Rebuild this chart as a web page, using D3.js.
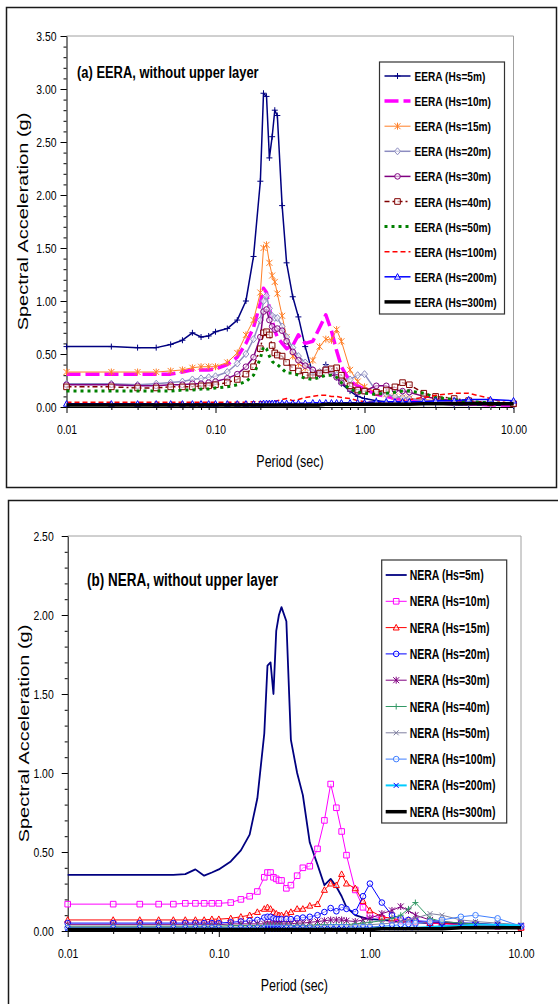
<!DOCTYPE html>
<html>
<head>
<meta charset="utf-8">
<script src="https://cdn.jsdelivr.net/npm/d3@7"></script>
<style>
body { margin: 0; background: #fff; }
svg { display: block; }
</style>
</head>
<body>
<script>
/* Data: periods (sec) shared by every series, values in g */
const periods = [0.01, 0.02, 0.03, 0.04, 0.05, 0.06, 0.07, 0.08, 0.09, 0.10,
    0.12, 0.14, 0.16, 0.18, 0.20, 0.21, 0.22, 0.23, 0.24, 0.25,
    0.26, 0.28, 0.30, 0.33, 0.36, 0.40, 0.45, 0.50, 0.55, 0.60,
    0.65, 0.70, 0.80, 0.90, 1.00, 1.20, 1.40, 1.60, 1.80, 2.00,
    2.50, 3.00, 4.00, 5.00, 7.00, 10.00];

const xTickValues = [0.01, 0.1, 1, 10];

// (a) EERA
const eeraLabels = ['EERA (Hs=5m)', 'EERA (Hs=10m)', 'EERA (Hs=15m)', 'EERA (Hs=20m)', 'EERA (Hs=30m)',
    'EERA (Hs=40m)', 'EERA (Hs=50m)', 'EERA (Hs=100m)', 'EERA (Hs=200m)', 'EERA (Hs=300m)'];
const eeraTicks = [0, 0.5, 1, 1.5, 2, 2.5, 3, 3.5];
const eera5 = [0.57, 0.57, 0.56, 0.56, 0.59, 0.63, 0.70, 0.66, 0.67, 0.71,
    0.74, 0.82, 1.00, 1.42, 2.13, 2.96, 2.93, 2.35, 2.55, 2.80,
    2.75, 1.90, 1.36, 1.04, 0.85, 0.57, 0.31, 0.30, 0.40, 0.33,
    0.28, 0.22, 0.15, 0.10, 0.08, 0.06, 0.05, 0.05, 0.04, 0.04,
    0.03, 0.03, 0.02, 0.02, 0.02, 0.01];
const eera10 = [0.31, 0.31, 0.31, 0.31, 0.31, 0.33, 0.35, 0.35, 0.35, 0.36,
    0.40, 0.47, 0.60, 0.75, 0.98, 1.12, 1.08, 0.93, 0.82, 0.72,
    0.66, 0.60, 0.55, 0.58, 0.68, 0.60, 0.62, 0.75, 0.87, 0.72,
    0.53, 0.38, 0.24, 0.20, 0.17, 0.12, 0.10, 0.08, 0.07, 0.06,
    0.05, 0.04, 0.03, 0.03, 0.02, 0.02];
const eera15 = [0.33, 0.33, 0.33, 0.33, 0.34, 0.35, 0.37, 0.38, 0.38, 0.38,
    0.42, 0.51, 0.68, 0.82, 1.08, 1.50, 1.53, 1.36, 1.24, 1.18,
    1.07, 0.86, 0.66, 0.48, 0.41, 0.37, 0.44, 0.57, 0.64, 0.63,
    0.73, 0.62, 0.35, 0.24, 0.19, 0.14, 0.12, 0.10, 0.09, 0.08,
    0.07, 0.06, 0.05, 0.05, 0.04, 0.03];
const eera20 = [0.22, 0.22, 0.21, 0.22, 0.23, 0.24, 0.26, 0.27, 0.28, 0.29,
    0.33, 0.41, 0.50, 0.64, 0.82, 1.00, 1.05, 0.93, 0.86, 0.84,
    0.84, 0.76, 0.66, 0.56, 0.48, 0.42, 0.35, 0.33, 0.37, 0.35,
    0.30, 0.27, 0.26, 0.30, 0.31, 0.15, 0.12, 0.10, 0.09, 0.08,
    0.06, 0.05, 0.04, 0.04, 0.03, 0.03];
const eera30 = [0.21, 0.21, 0.20, 0.20, 0.21, 0.21, 0.22, 0.22, 0.23, 0.24,
    0.27, 0.31, 0.38, 0.47, 0.66, 0.90, 0.92, 0.82, 0.76, 0.73,
    0.74, 0.72, 0.62, 0.52, 0.44, 0.39, 0.35, 0.31, 0.35, 0.32,
    0.28, 0.23, 0.17, 0.14, 0.15, 0.20, 0.20, 0.16, 0.15, 0.14,
    0.10, 0.08, 0.06, 0.05, 0.04, 0.03];
const eera40 = [0.19, 0.19, 0.18, 0.18, 0.19, 0.19, 0.19, 0.20, 0.20, 0.21,
    0.23, 0.26, 0.31, 0.38, 0.55, 0.70, 0.71, 0.68, 0.58, 0.51,
    0.49, 0.48, 0.42, 0.37, 0.34, 0.30, 0.30, 0.32, 0.35, 0.36,
    0.37, 0.30, 0.20, 0.16, 0.15, 0.14, 0.16, 0.19, 0.23, 0.21,
    0.13, 0.10, 0.08, 0.06, 0.04, 0.03];
const eera50 = [0.15, 0.15, 0.15, 0.15, 0.15, 0.16, 0.16, 0.17, 0.17, 0.18,
    0.19, 0.21, 0.24, 0.30, 0.46, 0.57, 0.55, 0.48, 0.43, 0.41,
    0.40, 0.36, 0.32, 0.32, 0.30, 0.27, 0.26, 0.28, 0.30, 0.30,
    0.28, 0.23, 0.17, 0.14, 0.13, 0.12, 0.13, 0.14, 0.15, 0.15,
    0.13, 0.09, 0.07, 0.05, 0.04, 0.03];
const eera100 = [0.045, 0.045, 0.045, 0.045, 0.045, 0.045, 0.045, 0.045, 0.045, 0.045,
    0.045, 0.045, 0.045, 0.05, 0.05, 0.05, 0.05, 0.05, 0.05, 0.055,
    0.06, 0.07, 0.08, 0.06, 0.07, 0.09, 0.10, 0.11, 0.11, 0.10,
    0.10, 0.09, 0.08, 0.06, 0.05, 0.04, 0.04, 0.05, 0.06, 0.07,
    0.09, 0.11, 0.13, 0.13, 0.08, 0.02];
const eera200 = [0.03, 0.03, 0.03, 0.03, 0.03, 0.03, 0.03, 0.03, 0.03, 0.03,
    0.03, 0.03, 0.03, 0.03, 0.03, 0.035, 0.035, 0.035, 0.035, 0.035,
    0.035, 0.035, 0.035, 0.035, 0.035, 0.035, 0.04, 0.04, 0.04, 0.04,
    0.04, 0.04, 0.04, 0.04, 0.04, 0.05, 0.05, 0.05, 0.05, 0.05,
    0.05, 0.06, 0.06, 0.07, 0.07, 0.06];
const eera300 = [0.02, 0.02, 0.02, 0.02, 0.02, 0.02, 0.02, 0.02, 0.02, 0.02,
    0.02, 0.02, 0.02, 0.02, 0.02, 0.02, 0.02, 0.02, 0.02, 0.02,
    0.02, 0.02, 0.02, 0.02, 0.02, 0.02, 0.02, 0.02, 0.025, 0.025,
    0.025, 0.025, 0.025, 0.025, 0.025, 0.025, 0.025, 0.025, 0.025, 0.025,
    0.03, 0.03, 0.03, 0.03, 0.03, 0.03];

// (b) NERA
const neraLabels = ['NERA (Hs=5m)', 'NERA (Hs=10m)', 'NERA (Hs=15m)', 'NERA (Hs=20m)', 'NERA (Hs=30m)',
    'NERA (Hs=40m)', 'NERA (Hs=50m)', 'NERA (Hs=100m)', 'NERA (Hs=200m)', 'NERA (Hs=300m)'];
const neraTicks = [0, 0.5, 1, 1.5, 2, 2.5];
const nera5 = [0.355, 0.355, 0.355, 0.355, 0.355, 0.36, 0.39, 0.35, 0.37, 0.39,
    0.44, 0.51, 0.61, 0.84, 1.25, 1.68, 1.70, 1.50, 1.90, 2.00,
    2.05, 1.96, 1.21, 1.00, 0.86, 0.56, 0.42, 0.29, 0.33, 0.28,
    0.22, 0.15, 0.10, 0.085, 0.075, 0.07, 0.065, 0.06, 0.06, 0.055,
    0.05, 0.05, 0.045, 0.04, 0.035, 0.03];
const nera10 = [0.17, 0.17, 0.17, 0.17, 0.17, 0.175, 0.175, 0.175, 0.175, 0.175,
    0.18, 0.20, 0.22, 0.25, 0.34, 0.37, 0.37, 0.34, 0.33, 0.32,
    0.32, 0.27, 0.29, 0.35, 0.40, 0.41, 0.52, 0.70, 0.93, 0.78,
    0.63, 0.48, 0.26, 0.15, 0.10, 0.08, 0.07, 0.065, 0.06, 0.06,
    0.05, 0.045, 0.04, 0.035, 0.03, 0.025];
const nera15 = [0.07, 0.07, 0.07, 0.07, 0.07, 0.07, 0.07, 0.07, 0.075, 0.075,
    0.08, 0.09, 0.10, 0.12, 0.14, 0.15, 0.14, 0.12, 0.11, 0.10,
    0.10, 0.11, 0.12, 0.14, 0.14, 0.16, 0.17, 0.26, 0.30, 0.29,
    0.36, 0.30, 0.27, 0.19, 0.13, 0.09, 0.08, 0.07, 0.07, 0.06,
    0.05, 0.05, 0.04, 0.035, 0.03, 0.02];
const nera20 = [0.05, 0.05, 0.05, 0.05, 0.05, 0.05, 0.05, 0.05, 0.05, 0.05,
    0.055, 0.06, 0.065, 0.07, 0.085, 0.09, 0.09, 0.08, 0.075, 0.075,
    0.075, 0.075, 0.075, 0.08, 0.085, 0.09, 0.10, 0.12, 0.145, 0.125,
    0.15, 0.14, 0.12, 0.22, 0.30, 0.18, 0.10, 0.08, 0.07, 0.065,
    0.06, 0.055, 0.05, 0.05, 0.04, 0.03];
const nera30 = [0.04, 0.04, 0.04, 0.04, 0.04, 0.04, 0.04, 0.04, 0.04, 0.04,
    0.045, 0.045, 0.045, 0.045, 0.045, 0.045, 0.045, 0.045, 0.045, 0.045,
    0.045, 0.045, 0.045, 0.05, 0.05, 0.055, 0.06, 0.065, 0.07, 0.07,
    0.07, 0.065, 0.06, 0.07, 0.08, 0.11, 0.13, 0.155, 0.13, 0.10,
    0.07, 0.06, 0.05, 0.045, 0.04, 0.03];
const nera40 = [0.03, 0.03, 0.03, 0.03, 0.03, 0.03, 0.03, 0.03, 0.03, 0.03,
    0.035, 0.035, 0.035, 0.035, 0.035, 0.035, 0.035, 0.035, 0.035, 0.035,
    0.035, 0.035, 0.035, 0.035, 0.035, 0.035, 0.04, 0.04, 0.04, 0.04,
    0.04, 0.04, 0.045, 0.05, 0.055, 0.065, 0.08, 0.10, 0.14, 0.18,
    0.08, 0.06, 0.05, 0.045, 0.04, 0.03];
const nera50 = [0.025, 0.025, 0.025, 0.025, 0.025, 0.025, 0.025, 0.025, 0.025, 0.025,
    0.025, 0.025, 0.025, 0.025, 0.025, 0.025, 0.025, 0.025, 0.025, 0.025,
    0.025, 0.025, 0.025, 0.03, 0.03, 0.03, 0.03, 0.03, 0.03, 0.03,
    0.03, 0.03, 0.035, 0.04, 0.04, 0.045, 0.05, 0.06, 0.07, 0.08,
    0.11, 0.10, 0.07, 0.06, 0.05, 0.04];
const nera100 = [0.02, 0.02, 0.02, 0.02, 0.02, 0.02, 0.02, 0.02, 0.02, 0.02,
    0.02, 0.02, 0.02, 0.02, 0.02, 0.02, 0.02, 0.02, 0.02, 0.02,
    0.02, 0.02, 0.02, 0.02, 0.02, 0.02, 0.02, 0.02, 0.025, 0.025,
    0.025, 0.025, 0.025, 0.025, 0.025, 0.03, 0.035, 0.04, 0.045, 0.05,
    0.06, 0.07, 0.09, 0.10, 0.08, 0.03];
const nera200 = [0.015, 0.015, 0.015, 0.015, 0.015, 0.015, 0.015, 0.015, 0.015, 0.015,
    0.015, 0.015, 0.015, 0.015, 0.015, 0.015, 0.015, 0.015, 0.015, 0.015,
    0.015, 0.015, 0.015, 0.015, 0.015, 0.015, 0.015, 0.015, 0.015, 0.015,
    0.015, 0.015, 0.015, 0.015, 0.015, 0.02, 0.02, 0.02, 0.02, 0.02,
    0.025, 0.03, 0.035, 0.04, 0.04, 0.035];
const nera300 = [0.01, 0.01, 0.01, 0.01, 0.01, 0.01, 0.01, 0.01, 0.01, 0.01,
    0.01, 0.01, 0.01, 0.01, 0.01, 0.01, 0.01, 0.01, 0.01, 0.01,
    0.01, 0.01, 0.01, 0.01, 0.01, 0.01, 0.01, 0.01, 0.01, 0.01,
    0.01, 0.01, 0.01, 0.01, 0.01, 0.015, 0.015, 0.015, 0.015, 0.015,
    0.015, 0.015, 0.02, 0.02, 0.02, 0.02];

/* Styles */
// No narrow face installed: use Arial-metric Liberation Sans and squeeze it (see condense)
const font = "'Liberation Sans', Arial, sans-serif";

const eeraStyles = [
    { color: '#000080', width: 1.5, marker: 'plus' },
    { color: '#ff00ff', width: 3.5, dash: '14,5' },
    { color: '#ff7f27', width: 1, marker: 'star' },
    { color: '#8c8cc0', width: 1.5, marker: 'diamond' },
    { color: '#800080', width: 1.5, marker: 'circle' },
    { color: '#800000', width: 1.5, dash: '5,3,2,3', marker: 'square' },
    { color: '#008000', width: 3, dash: '3,4' },
    { color: '#ff0000', width: 1.5, dash: '5,3' },
    { color: '#0000ff', width: 1.5, marker: 'triangle' },
    { color: '#000000', width: 3.5 },
];
const neraStyles = [
    { color: '#000080', width: 1.8 },
    { color: '#ff00ff', width: 1, marker: 'square' },
    { color: '#ff0000', width: 1, marker: 'triangle' },
    { color: '#0000ff', width: 1, marker: 'circle' },
    { color: '#800080', width: 1, marker: 'star' },
    { color: '#339966', width: 1, marker: 'plus' },
    { color: '#8080a0', width: 1, marker: 'cross' },
    { color: '#3f7fff', width: 1, marker: 'circle' },
    { color: '#00ccff', width: 2, marker: 'cross', markerColor: '#0000ff' },
    { color: '#000000', width: 3.5 },
];

/* Markers */
function markerPath(type) {
    switch (type) {
        case 'plus': return 'M-3,0H3M0,-3V3';
        case 'star': return 'M-3,-3L3,3M-3,3L3,-3M0,-3.5V3.5';
        case 'cross': return 'M-2.5,-2.5L2.5,2.5M-2.5,2.5L2.5,-2.5';
        case 'diamond': return 'M0,-3.5L3,0L0,3.5L-3,0Z';
        case 'square': return 'M-2.8,-2.8H2.8V2.8H-2.8Z';
        case 'triangle': return 'M0,-3.2L3,2.4H-3Z';
        case 'circle': return 'M-2.8,0A2.8,2.8 0 1,0 2.8,0A2.8,2.8 0 1,0 -2.8,0';
    }
    return null;
}

function drawMarkers(g, pts, style) {
    const d = markerPath(style.marker);
    if (!d) return;
    g.selectAll(null)
        .data(pts)
        .enter()
        .append('path')
        .attr('transform', p => `translate(${p[0]},${p[1]})`)
        .attr('d', d)
        .attr('fill', style.marker === 'star' || style.marker === 'plus' || style.marker === 'cross' ? 'none' : 'white')
        .attr('fill-opacity', 0.6)
        .attr('stroke', style.markerColor || style.color)
        .attr('stroke-width', 1);
}

// squeeze text horizontally to mimic the narrow type of the original
function condense(sel, k) {
    sel.each(function () {
        const w = this.getComputedTextLength();
        d3.select(this).attr('textLength', w * k).attr('lengthAdjust', 'spacingAndGlyphs');
    });
}

/* Panel */
const svg = d3.select('body').append('svg').attr('width', 558).attr('height', 1004);

function drawPanel(p) {
    const x = d3.scaleLog().domain([0.01, 10]).range([p.left, p.right]);
    const y = d3.scaleLinear().domain([0, p.yMax]).range([p.bottom, p.top]);

    // chart frame
    svg.append('rect')
        .attr('x', p.frame[0]).attr('y', p.frame[1])
        .attr('width', p.frame[2]).attr('height', p.frame[3])
        .attr('fill', 'white').attr('stroke', '#1a1a1a').attr('stroke-width', 1.5);

    // plot area border (top and right, grey)
    svg.append('path')
        .attr('d', `M${p.left},${p.top}H${p.right}V${p.bottom}`)
        .attr('fill', 'none').attr('stroke', '#a0a0a0').attr('stroke-width', 1);

    // minor ticks
    const yMinor = d3.range(0, p.yMax + 1e-9, 0.1);
    svg.append('g')
        .attr('transform', `translate(${p.left},0)`)
        .call(d3.axisLeft(y).tickValues(yMinor).tickSize(3).tickFormat(''))
        .call(g => g.select('.domain').remove());
    const xMinor = [];
    [0.01, 0.1, 1].forEach(dec => d3.range(2, 10).forEach(k => xMinor.push(dec * k)));
    svg.append('g')
        .attr('transform', `translate(0,${p.bottom})`)
        .call(d3.axisBottom(x).tickValues(xMinor).tickSize(3).tickFormat(''))
        .call(g => g.select('.domain').remove());

    // major axes
    svg.append('g')
        .attr('transform', `translate(${p.left},0)`)
        .call(d3.axisLeft(y).tickValues(p.yTicks).tickSize(6).tickSizeOuter(0)
            .tickPadding(p.yPad).tickFormat(d3.format('.2f')))
        .call(g => g.selectAll('text').attr('font-family', font).attr('font-size', 13).attr('fill', '#000')
            .call(condense, 0.8));
    svg.append('g')
        .attr('transform', `translate(0,${p.bottom})`)
        .call(d3.axisBottom(x).tickValues(xTickValues).tickSize(6).tickSizeOuter(0)
            .tickPadding(12).tickFormat(d3.format('.2f')))
        .call(g => g.selectAll('text').attr('font-family', font).attr('font-size', 13).attr('fill', '#000')
            .call(condense, 0.8));

    // series
    const line = d3.line().x((d, i) => x(periods[i])).y(d => y(d));
    const plot = svg.append('g');
    p.series.forEach((vals, k) => {
        const st = p.styles[k];
        plot.append('path')
            .datum(vals)
            .attr('d', line)
            .attr('fill', 'none')
            .attr('stroke', st.color)
            .attr('stroke-width', st.width)
            .attr('stroke-dasharray', st.dash || null)
            .attr('stroke-linejoin', 'round');
        drawMarkers(plot, vals.map((v, i) => [x(periods[i]), y(v)]), st);
    });

    // panel title
    svg.append('text')
        .attr('x', p.titleX).attr('y', p.titleY)
        .attr('font-family', font).attr('font-weight', 'bold').attr('font-size', p.titleSize)
        .text(p.title)
        .call(condense, 0.77);

    // axis titles (the vertical one is squeezed across its glyph height, like the original)
    svg.append('text')
        .attr('transform', `translate(${p.yTitleX},${(p.top + p.bottom) / 2}) scale(0.77,1) rotate(-90)`)
        .attr('text-anchor', 'middle')
        .attr('font-family', font).attr('font-size', 20)
        .text('Spectral Acceleration (g)');
    svg.append('text')
        .attr('x', (p.left + p.right) / 2).attr('y', p.bottom + 60)
        .attr('text-anchor', 'middle')
        .attr('font-family', font).attr('font-size', 16)
        .text('Period (sec)')
        .call(condense, 0.78);

    // legend
    const lg = p.legend;
    svg.append('rect')
        .attr('x', lg.x).attr('y', lg.y).attr('width', lg.w).attr('height', lg.h)
        .attr('fill', 'white').attr('stroke', '#333').attr('stroke-width', 1.2);
    p.labels.forEach((label, k) => {
        const st = p.styles[k];
        const cy = lg.row0 + k * lg.step;
        svg.append('path')
            .attr('d', `M${lg.x + lg.lineFrom},${cy}H${lg.x + lg.lineTo}`)
            .attr('stroke', st.color)
            .attr('stroke-width', st.width)
            .attr('stroke-dasharray', st.dash || null);
        drawMarkers(svg.append('g'), [[lg.x + (lg.lineFrom + lg.lineTo) / 2, cy]], st);
        svg.append('text')
            .attr('x', lg.x + lg.textX).attr('y', cy + 5)
            .attr('font-family', font).attr('font-weight', 'bold').attr('font-size', lg.fontSize)
            .text(label)
            .call(condense, 0.75);
    });
}

drawPanel({
    frame: [6.5, 7.5, 550, 480],
    left: 66.5, right: 513.5, top: 36, bottom: 407,
    yMax: 3.5, yTicks: eeraTicks, yPad: 4,
    yTitleX: 28,
    title: '(a) EERA, without upper layer', titleX: 77, titleY: 78, titleSize: 16.8,
    series: [eera5, eera10, eera15, eera20, eera30, eera40, eera50, eera100, eera200, eera300],
    styles: eeraStyles, labels: eeraLabels,
    legend: { x: 379.5, y: 62, w: 125, h: 252, row0: 76, step: 25.1, lineFrom: 5, lineTo: 31, textX: 35, fontSize: 13.5 },
});

drawPanel({
    frame: [8.5, 500.5, 560, 520],
    left: 67.7, right: 521, top: 536, bottom: 931,
    yMax: 2.5, yTicks: neraTicks, yPad: 8,
    yTitleX: 29,
    title: '(b) NERA, without upper layer', titleX: 87, titleY: 586, titleSize: 17.5,
    series: [nera5, nera10, nera15, nera20, nera30, nera40, nera50, nera100, nera200, nera300],
    styles: neraStyles, labels: neraLabels,
    legend: { x: 381.7, y: 560, w: 125, h: 263, row0: 575, step: 26.3, lineFrom: 4, lineTo: 25, textX: 28, fontSize: 14 },
});
</script>
</body>
</html>
